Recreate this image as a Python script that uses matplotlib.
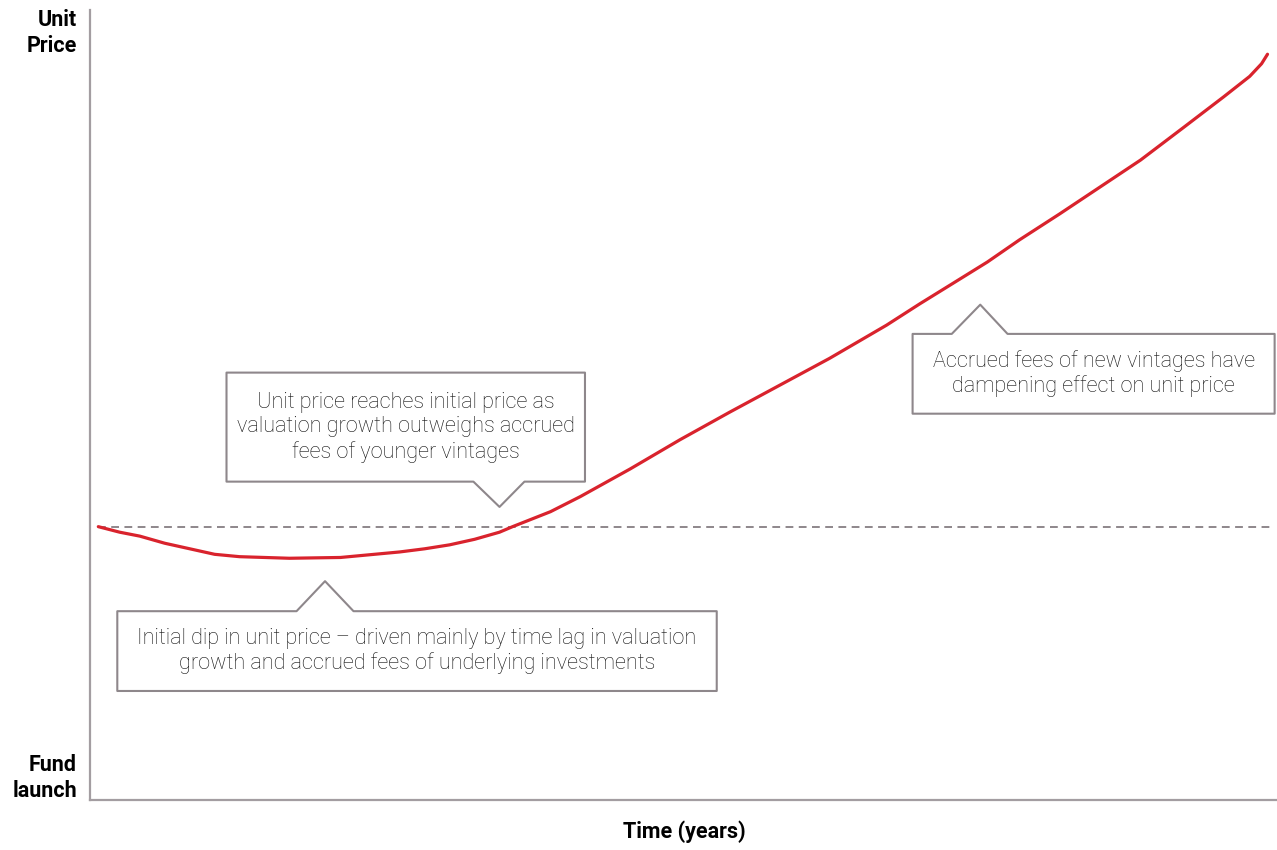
import matplotlib.pyplot as plt
from matplotlib.patches import Polygon
import numpy as np

# curve (time 0-100, price 0-100)
time = [0.7, 2.5, 4.2, 6.3, 8.4, 10.5, 12.6, 16.8, 21.1, 26.1, 28.2, 30.3, 32.4,
        34.5, 35.6, 38.8, 41.3, 45.5, 49.7, 53.9, 58.1, 62.3, 67.1, 69.9, 72.7,
        75.6, 78.3, 81.7, 85.1, 88.5, 92.1, 95.5, 97.7, 98.7, 99.2]
price = [34.6, 33.9, 33.4, 32.5, 31.8, 31.1, 30.8, 30.6, 30.7, 31.4, 31.8, 32.3, 33.0,
         33.9, 34.6, 36.5, 38.4, 41.9, 45.6, 49.1, 52.5, 55.9, 60.1, 62.8, 65.4,
         68.1, 70.9, 74.2, 77.6, 81.0, 85.1, 89.0, 91.6, 93.2, 94.4]
initial_price = 34.6

callout_texts = [
    "Unit price reaches initial price as\nvaluation growth outweighs accrued\nfees of younger vintages",
    "Initial dip in unit price – driven mainly by time lag in valuation\ngrowth and accrued fees of underlying investments",
    "Accrued fees of new vintages have\ndampening effect on unit price",
]
# box (x0, x1, y0, y1), pointer (base left, base right, tip x, tip y), side
callout_boxes = [
    ((11.5, 41.7, 40.3, 54.1), (32.3, 36.6, 34.5, 37.1), "bottom"),
    ((2.3, 52.8, 13.8, 23.9), (17.4, 22.2, 19.8, 27.7), "top"),
    ((69.3, 99.8, 48.9, 59.0), (72.6, 77.3, 75.0, 62.7), "top"),
]

red = "#d9232d"
grey = "#8e878b"
axis_grey = "#a39da1"
font_light = ["Roboto", "DejaVu Sans"]
font_bold = ["Roboto", "DejaVu Sans"]

fig = plt.figure(figsize=(12.77, 8.5), dpi=100)
ax = fig.add_axes([90 / 1277, 50 / 850, 1187 / 1277, 790 / 850])
ax.set_xlim(0, 100)
ax.set_ylim(0, 100)
ax.set_xticks([])
ax.set_yticks([])
for s in ["top", "right"]:
    ax.spines[s].set_visible(False)
for s in ["left", "bottom"]:
    ax.spines[s].set_color(axis_grey)
    ax.spines[s].set_linewidth(1.6)

ax.plot([time[0], 99.6], [initial_price, initial_price], color=grey,
        lw=1.4, dashes=(4, 2.8), zorder=2)
ax.plot(time, price, color=red, lw=2.3, solid_capstyle="round",
        solid_joinstyle="round", zorder=3)

for (box, ptr, side), txt in zip(callout_boxes, callout_texts):
    x0, x1, y0, y1 = box
    bl, br, tx, ty = ptr
    if side == "bottom":
        pts = [(x0, y1), (x1, y1), (x1, y0), (br, y0), (tx, ty), (bl, y0), (x0, y0)]
    else:
        pts = [(x0, y0), (x1, y0), (x1, y1), (br, y1), (tx, ty), (bl, y1), (x0, y1)]
    poly = Polygon(pts, closed=True, facecolor="white", edgecolor=grey,
                   lw=1.5, joinstyle="round", zorder=4)
    ax.add_patch(poly)
    ax.text((x0 + x1) / 2, (y0 + y1) / 2, txt, ha="center", va="center",
            fontsize=15.6, family=font_light, fontweight="light", color="#111111",
            linespacing=1.22, zorder=5)

fig.text(77 / 1277, 1 - 33 / 850, "Unit\nPrice", ha="right", va="center",
         fontsize=15.5, fontweight="bold", family=font_bold, linespacing=1.2)
fig.text(77 / 1277, 1 - 778 / 850, "Fund\nlaunch", ha="right", va="center",
         fontsize=15.5, fontweight="bold", family=font_bold, linespacing=1.2)
fig.text(684 / 1277, 1 - 832 / 850, "Time (years)", ha="center", va="center",
         fontsize=15.5, fontweight="bold", family=font_bold)

plt.savefig("out.png", dpi=100)
